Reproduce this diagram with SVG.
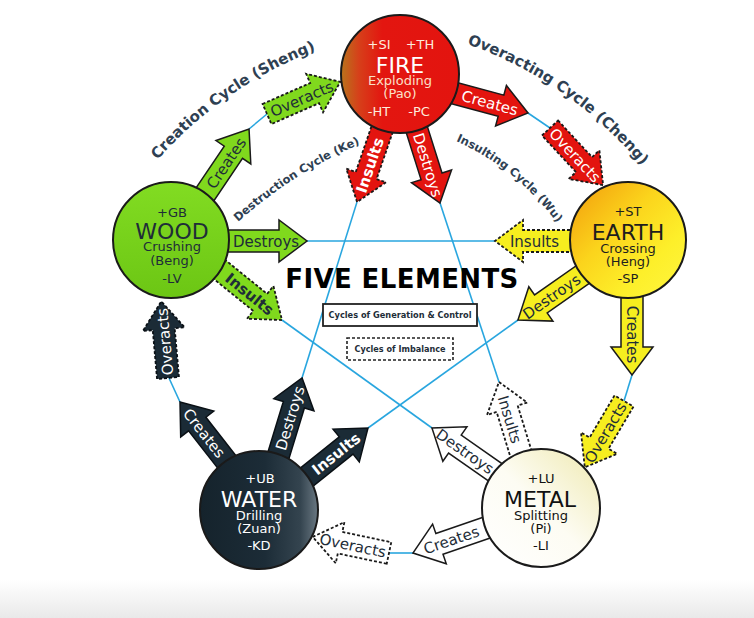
<svg xmlns="http://www.w3.org/2000/svg" width="754" height="618" viewBox="0 0 754 618">
<defs>
<linearGradient id="gFire" x1="0" y1="0" x2="1" y2="0"><stop offset="0" stop-color="#b8741c"/><stop offset="0.15" stop-color="#d6401a"/><stop offset="0.35" stop-color="#e31610"/><stop offset="1" stop-color="#e3140f"/></linearGradient>
<linearGradient id="gWood" x1="0" y1="0" x2="0" y2="1"><stop offset="0" stop-color="#82dc22"/><stop offset="1" stop-color="#6cc614"/></linearGradient>
<linearGradient id="gEarth" x1="0" y1="0" x2="1" y2="1"><stop offset="0" stop-color="#f29a0c"/><stop offset="0.4" stop-color="#fbd41c"/><stop offset="0.7" stop-color="#fdef2a"/><stop offset="1" stop-color="#fff640"/></linearGradient>
<linearGradient id="gWater" x1="0" y1="0" x2="1" y2="0"><stop offset="0" stop-color="#15232c"/><stop offset="0.55" stop-color="#1c2c37"/><stop offset="0.85" stop-color="#34444f"/><stop offset="1" stop-color="#6a7882"/></linearGradient>
<linearGradient id="gMetal" x1="0" y1="1" x2="1" y2="0"><stop offset="0" stop-color="#ffffff"/><stop offset="0.5" stop-color="#fdfcf3"/><stop offset="1" stop-color="#efe9b0"/></linearGradient>
<linearGradient id="gBottom" x1="0" y1="0" x2="0" y2="1"><stop offset="0" stop-color="#ffffff"/><stop offset="1" stop-color="#e9e9e9"/></linearGradient>
<path id="arcCreation" d="M157.5,160 A400,400 0 0 1 395.6,29.1"/>
<path id="arcOver" d="M467,44 A400,400 0 0 1 681.4,223"/>
<path id="arcDestr" d="M238,222 A440,440 0 0 1 456,115.6"/>
<path id="arcInsult" d="M456,141.1 A250,250 0 0 1 580.9,263.8"/>
</defs>
<style>
.ln{stroke:#29a6df;stroke-width:1.6;fill:none}
.fire path{fill:#e3140f;stroke:#1a1a1a;stroke-width:1.5}
.wood path{fill:#80d91d;stroke:#1a1a1a;stroke-width:1.5}
.earth path{fill:#f6ee1f;stroke:#1a1a1a;stroke-width:1.5}
.metal path{fill:#ffffff;stroke:#1a1a1a;stroke-width:1.5}
.water path{fill:#1b2b36;stroke:#0a1015;stroke-width:1.5}
.dash path{stroke-dasharray:3 2;stroke-width:1.8}
.at{font-family:"DejaVu Sans",sans-serif;font-size:15px;text-anchor:middle}
.b{font-weight:bold}
.lt{fill:#ffffff}
.dk{fill:#1e2d38}
.node circle{stroke:#1a1a1a;stroke-width:2}
.nt{font-family:"DejaVu Sans",sans-serif;text-anchor:middle;font-size:13px}
.nn{font-size:22px}
.cyc{font-family:"DejaVu Sans",sans-serif;font-weight:bold;fill:#2e4052}
</style>
<rect x="0" y="580" width="754" height="38" fill="url(#gBottom)"/>
<g id="connectors">
<g id="lines">
<line class="ln" x1="307" y1="241" x2="495" y2="241"/>
<line class="ln" x1="518" y1="320" x2="368" y2="428"/>
<line class="ln" x1="302" y1="378" x2="357" y2="202"/>
<line class="ln" x1="440" y1="203" x2="499" y2="382"/>
<line class="ln" x1="432" y1="428" x2="282" y2="320"/>
<line class="ln" x1="249" y1="129" x2="267" y2="114"/>
<line class="ln" x1="528" y1="113" x2="550" y2="128"/>
<line class="ln" x1="632" y1="375" x2="624" y2="401"/>
<line class="ln" x1="413" y1="553" x2="389" y2="553"/>
<line class="ln" x1="180" y1="402" x2="169" y2="378"/>
</g>
<!-- Fire arrows -->
<g class="fire" transform="translate(441.1,89.7) rotate(15)"><path d="M0,-11H62V-21L90,0L62,21V11H0Z"/><text class="at lt" x="50.5" y="5.5" font-size="15.5">Creates</text></g>
<g class="fire dash" transform="translate(385.7,118.8) rotate(109)"><path d="M0,-11H60V-21L88,0L60,21V11H0Z"/><text class="at lt b" x="49" y="5.5" transform="rotate(180 49 0)">Insults</text></g>
<g class="fire" transform="translate(412.9,117.2) rotate(72.5)"><path d="M0,-11H62V-21L90,0L62,21V11H0Z"/><text class="at lt" x="50" y="5.5">Destroys</text></g>
<g class="fire dash" transform="translate(550,128) rotate(47.1)"><path d="M0,-11H50V-21L78,0L50,21V11H0Z"/><text class="at lt" x="37" y="5.5">Overacts</text></g>
<!-- Wood arrows -->
<g class="wood" transform="translate(197.6,205.3) rotate(-56)"><path d="M0,-11H64V-21L92,0L64,21V11H0Z"/><text class="at dk" x="51" y="5.5">Creates</text></g>
<g class="wood dash" transform="translate(267,114) rotate(-23.7)"><path d="M0,-11H52V-21L80,0L52,21V11H0Z"/><text class="at dk" x="38" y="5.5" font-size="15.5">Overacts</text></g>
<g class="wood" transform="translate(215,241)"><path d="M0,-11H64V-21L92,0L64,21V11H0Z"/><text class="at dk" x="51" y="5.5" font-size="14.5">Destroys</text></g>
<g class="wood dash" transform="translate(209.7,261.5) rotate(39)"><path d="M0,-11H65V-21L93,0L65,21V11H0Z"/><text class="at dk b" x="51.5" y="5.5">Insults</text></g>
<!-- Earth arrows -->
<g class="earth dash" transform="translate(584,241) rotate(180)"><path d="M0,-11H61V-21L89,0L61,21V11H0Z"/><text class="at dk" x="49.5" y="6" font-size="17" transform="rotate(180 49.5 0)">Insults</text></g>
<g class="earth" transform="translate(593.3,267.2) rotate(145)"><path d="M0,-11H64V-21L92,0L64,21V11H0Z"/><text class="at dk" x="51" y="5.5" transform="rotate(180 51 0)">Destroys</text></g>
<g class="earth" transform="translate(632,284) rotate(90)"><path d="M0,-11H63V-21L91,0L63,21V11H0Z"/><text class="at dk" x="50.5" y="5.5" font-size="14.5">Creates</text></g>
<g class="earth dash" transform="translate(624,401) rotate(120.6)"><path d="M0,-11H49V-21L77,0L49,21V11H0Z"/><text class="at dk" x="36.5" y="5.5" transform="rotate(180 36.5 0)">Overacts</text></g>
<!-- Metal arrows -->
<g class="metal dash" transform="translate(524.7,466.1) rotate(-107)"><path d="M0,-11H60V-21L88,0L60,21V11H0Z"/><text class="at dk" x="49" y="6" font-size="17" transform="rotate(180 49 0)">Insults</text></g>
<g class="metal" transform="translate(506.5,480.2) rotate(-145)"><path d="M0,-11H63V-21L91,0L63,21V11H0Z"/><text class="at dk" x="50.5" y="5.5" transform="rotate(180 50.5 0)">Destroys</text></g>
<g class="metal" transform="translate(499,523.4) rotate(161)"><path d="M0,-11H63V-21L91,0L63,21V11H0Z"/><text class="at dk" x="50.5" y="5.5" transform="rotate(180 50.5 0)">Creates</text></g>
<g class="metal dash" transform="translate(389,553) rotate(-168.1)"><path d="M0,-11H50V-21L78,0L50,21V11H0Z"/><text class="at dk" x="37" y="5.5" transform="rotate(180 37 0)">Overacts</text></g>
<!-- Water arrows -->
<g class="water dash" transform="translate(168,378) rotate(-95)"><path d="M0,-11H49V-21L77,0L49,21V11H0Z"/><text class="at lt" x="36.5" y="5.5">Overacts</text></g>
<g class="water" transform="translate(234.8,472.1) rotate(-128)"><path d="M0,-11H61V-21L89,0L61,21V11H0Z"/><text class="at lt" x="49.5" y="5.5" transform="rotate(180 49.5 0)">Creates</text></g>
<g class="water" transform="translate(274.6,467.9) rotate(-73)"><path d="M0,-11H66V-21L94,0L66,21V11H0Z"/><text class="at lt" x="52" y="5.5">Destroys</text></g>
<g class="water" transform="translate(296.2,485.5) rotate(-38.7)"><path d="M0,-11H64V-21L92,0L64,21V11H0Z"/><text class="at lt b" x="51" y="5.5" font-size="16">Insults</text></g>
</g>
<g id="fire" class="node">
<circle cx="400" cy="74" r="59" fill="url(#gFire)"/>
<text class="nt" fill="#fdebdc" x="379" y="49">+SI</text>
<text class="nt" fill="#fdebdc" x="420" y="49">+TH</text>
<text class="nt nn" fill="#ffffff" x="400" y="73">FIRE</text>
<text class="nt" fill="#fbe0c8" x="400" y="85">Exploding</text>
<text class="nt" fill="#fbe0c8" x="400" y="98">(Pao)</text>
<text class="nt" fill="#fdebdc" x="379" y="116">-HT</text>
<text class="nt" fill="#fdebdc" x="419" y="116">-PC</text>
</g>
<g id="wood" class="node">
<circle cx="171" cy="240" r="58" fill="url(#gWood)"/>
<text class="nt" fill="#1e2d38" x="172" y="217">+GB</text>
<text class="nt nn" fill="#1e2d38" x="172" y="239">WOOD</text>
<text class="nt" fill="#1e2d38" x="172" y="251">Crushing</text>
<text class="nt" fill="#1e2d38" x="172" y="265">(Beng)</text>
<text class="nt" fill="#1e2d38" x="172" y="283">-LV</text>
</g>
<g id="earth" class="node">
<circle cx="628" cy="240" r="58" fill="url(#gEarth)"/>
<text class="nt" fill="#1e1e1e" x="628" y="216">+ST</text>
<text class="nt nn" fill="#1e1e1e" x="628" y="240">EARTH</text>
<text class="nt" fill="#1e1e1e" x="628" y="253">Crossing</text>
<text class="nt" fill="#1e1e1e" x="628" y="266">(Heng)</text>
<text class="nt" fill="#1e1e1e" x="628" y="283">-SP</text>
</g>
<g id="water" class="node">
<circle cx="259" cy="510" r="59" fill="url(#gWater)"/>
<text class="nt" fill="#ffffff" x="260" y="483">+UB</text>
<text class="nt nn" fill="#ffffff" x="259" y="507">WATER</text>
<text class="nt" fill="#ffffff" x="259" y="520">Drilling</text>
<text class="nt" fill="#ffffff" x="259" y="533">(Zuan)</text>
<text class="nt" fill="#ffffff" x="259" y="550">-KD</text>
</g>
<g id="metal" class="node">
<circle cx="541" cy="508" r="59" fill="url(#gMetal)"/>
<text class="nt" fill="#111111" x="541" y="483">+LU</text>
<text class="nt nn" fill="#111111" x="540" y="507">METAL</text>
<text class="nt" fill="#111111" x="541" y="520">Splitting</text>
<text class="nt" fill="#111111" x="541" y="533">(Pi)</text>
<text class="nt" fill="#111111" x="541" y="550">-LI</text>
</g>
<g id="labels">
<text class="cyc" font-size="15"><textPath href="#arcCreation">Creation Cycle (Sheng)</textPath></text>
<text class="cyc" font-size="15"><textPath href="#arcOver">Overacting Cycle (Cheng)</textPath></text>
<text class="cyc" font-size="11.5"><textPath href="#arcDestr">Destruction Cycle (Ke)</textPath></text>
<text class="cyc" font-size="11.5"><textPath href="#arcInsult">Insulting Cycle (Wu)</textPath></text>
<text x="402" y="288" font-family="DejaVu Sans, sans-serif" font-weight="bold" font-size="26" letter-spacing="0.4" text-anchor="middle" fill="#000000">FIVE ELEMENTS</text>
</g>
<g id="legend">
<rect x="323" y="304" width="154" height="22" fill="#ffffff" stroke="#222222" stroke-width="1.8"/>
<text x="400" y="318" font-family="DejaVu Sans, sans-serif" font-weight="bold" font-size="9.5" text-anchor="middle" fill="#1e2d38" textLength="143" lengthAdjust="spacingAndGlyphs">Cycles of Generation &amp; Control</text>
<rect x="347" y="338" width="106" height="22" fill="#ffffff" stroke="#222222" stroke-width="1.6" stroke-dasharray="3 2"/>
<text x="400" y="352" font-family="DejaVu Sans, sans-serif" font-weight="bold" font-size="9.5" text-anchor="middle" fill="#1e2d38" textLength="91" lengthAdjust="spacingAndGlyphs">Cycles of Imbalance</text>
</g>
</svg>
